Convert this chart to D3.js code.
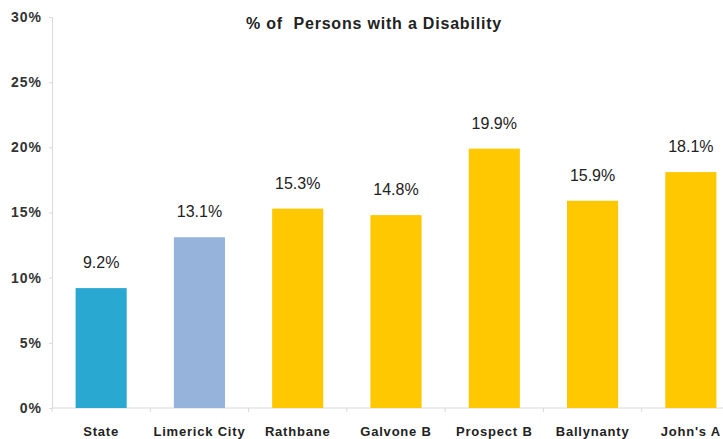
<!DOCTYPE html>
<html><head><meta charset="utf-8">
<script src="https://cdn.jsdelivr.net/npm/d3@7"></script>
<style>
body{margin:0;background:#fff;}
svg{display:block;}
text{font-family:"Liberation Sans",Arial,sans-serif;}
</style></head>
<body>
<svg id="chart" width="723" height="439"></svg>
<script>
const categories = ["State","Limerick City","Rathbane","Galvone B","Prospect B","Ballynanty","John's A"];
const values = [9.2, 13.1, 15.3, 14.8, 19.9, 15.9, 18.1];
const colors = ["#29a9d2","#95b3db","#ffc800","#ffc800","#ffc800","#ffc800","#ffc800"];
const yTicks = [0,5,10,15,20,25,30];
const title = "% of  Persons with a Disability";

const svg = d3.select("#chart");
const x0 = 52, x1 = 740, yTop = 17, yBot = 408;

const x = d3.scaleBand().domain(categories).range([x0, x1]).paddingInner(0.48).paddingOuter(0.24);
const y = d3.scaleLinear().domain([0,30]).range([yBot, yTop]);

// y axis
const yAxis = d3.axisLeft(y).tickValues(yTicks).tickFormat(d => d + "%").tickSize(3).tickPadding(7);
const gy = svg.append("g").attr("transform", `translate(${x0},0)`).call(yAxis);
gy.select(".domain").attr("stroke", "#d9d9d9");
gy.selectAll(".tick line").attr("stroke", "#d9d9d9");
gy.selectAll(".tick text").attr("fill", "#333").style("font-weight", "bold").style("font-size", "14px")
  .style("letter-spacing", "1px");

// x axis with boundary ticks
const gx = svg.append("g").attr("transform", `translate(0,${yBot})`);
gx.append("line").attr("x1", x0).attr("x2", x1).attr("stroke", "#d9d9d9");
const bounds = categories.map((c, i) => x(c) - x.step() * x.paddingInner() / 2).concat([x1]);
gx.selectAll("line.bt").data(bounds).enter().append("line").attr("class","bt")
  .attr("x1", d => d).attr("x2", d => d).attr("y1", 0).attr("y2", 4).attr("stroke", "#d9d9d9");
gx.selectAll("text.cat").data(categories).enter().append("text").attr("class","cat")
  .attr("x", d => x(d) + x.bandwidth()/2).attr("y", 28)
  .attr("text-anchor","middle").attr("fill","#222")
  .style("font-weight","bold").style("font-size","13px").style("letter-spacing","0.8px")
  .text(d => d);

// bars
svg.selectAll("rect.bar").data(values).enter().append("rect").attr("class","bar")
  .attr("x", (d,i) => x(categories[i])).attr("width", x.bandwidth())
  .attr("y", d => y(d)).attr("height", d => yBot - y(d))
  .attr("fill", (d,i) => colors[i]);

// value labels
svg.selectAll("text.val").data(values).enter().append("text").attr("class","val")
  .attr("x", (d,i) => x(categories[i]) + x.bandwidth()/2).attr("y", d => y(d) - 20)
  .attr("text-anchor","middle").attr("fill","#222").style("font-size","16px")
  .text(d => d.toFixed(1) + "%");

// title
svg.append("text").attr("x", 374).attr("y", 29).attr("text-anchor","middle")
  .attr("fill","#222").style("font-weight","bold").style("font-size","16px").style("letter-spacing","0.8px")
  .style("white-space","pre")
  .text(title);
</script>
</body></html>
